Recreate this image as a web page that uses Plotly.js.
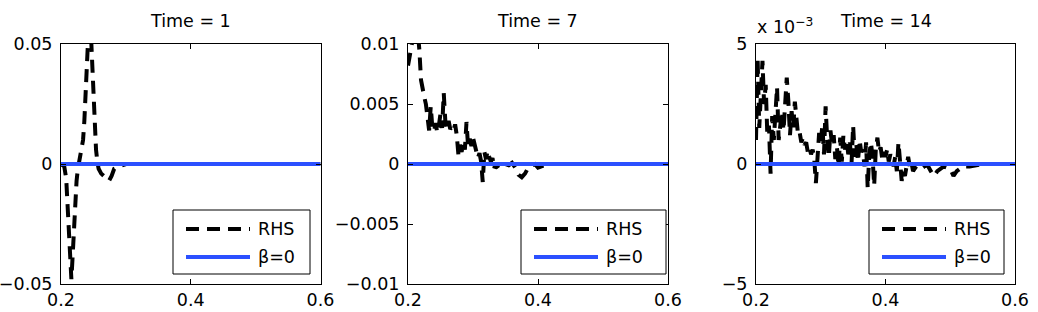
<!DOCTYPE html>
<html>
<head>
<meta charset="utf-8">
<script src="https://cdn.plot.ly/plotly-3.0.1.min.js"></script>
<style>html,body{margin:0;padding:0;background:#fff;}#chart{width:1038px;height:312px;}</style>
</head>
<body>
<div id="chart"></div>
<script>
// ---------- data ----------
const panelTitles = ["Time = 1", "Time = 7", "Time = 14"];
const seriesNames = ["RHS", "\u03b2=0"];

// Time = 1
const rhs1X = [0.2, 0.205, 0.208, 0.21, 0.212, 0.214, 0.216, 0.218, 0.22, 0.222, 0.224, 0.226, 0.228, 0.23, 0.232, 0.234, 0.236, 0.238, 0.24, 0.242, 0.244, 0.246, 0.248, 0.25, 0.252, 0.254, 0.256, 0.258, 0.262, 0.266, 0.27, 0.274, 0.278, 0.282, 0.29, 0.3, 0.4, 0.5, 0.6];
const rhs1Y = [0, -0.001, -0.006, -0.015, -0.027, -0.039, -0.048, -0.038, -0.025, -0.015, -0.007, -0.002, 0.001, 0.003, 0.006, 0.010, 0.018, 0.030, 0.042, 0.055, 0.065, 0.055, 0.040, 0.025, 0.014, 0.006, 0.001, -0.002, -0.004, -0.005, -0.006, -0.007, -0.005, -0.002, -0.001, 0, 0, 0, 0];

// Time = 7
const rhs7X = [0.2, 0.2025, 0.205, 0.2075, 0.21, 0.2125, 0.215, 0.2175, 0.22, 0.2225, 0.225, 0.2275, 0.23, 0.2325, 0.235, 0.2375, 0.24, 0.2425, 0.245, 0.2475, 0.25, 0.2525, 0.255, 0.2575, 0.26, 0.2625, 0.265, 0.2675, 0.27, 0.2725, 0.275, 0.2775, 0.28, 0.2825, 0.285, 0.2875, 0.29, 0.2925, 0.295, 0.2975, 0.3, 0.3025, 0.305, 0.3075, 0.31, 0.3125, 0.315, 0.3175, 0.32, 0.3225, 0.325, 0.3275, 0.33, 0.3325, 0.335, 0.3375, 0.34, 0.345, 0.35, 0.355, 0.36, 0.365, 0.37, 0.375, 0.38, 0.385, 0.39, 0.395, 0.4, 0.405, 0.41, 0.42, 0.5, 0.6];
const rhs7Y = [0.0082, 0.0090, 0.0098, 0.0106, 0.0115, 0.0120, 0.0110, 0.0095, 0.0070, 0.0060, 0.0056, 0.0050, 0.0038, 0.0028, 0.0048, 0.0030, 0.0027, 0.0034, 0.0026, 0.0032, 0.0042, 0.0030, 0.0059, 0.0035, 0.0029, 0.0036, 0.0029, 0.0031, 0.0028, 0.0033, 0.0024, 0.0008, 0.0016, 0.0010, 0.0018, 0.0012, 0.0035, 0.0014, 0.0021, 0.0015, 0.0022, 0.0016, 0.0009, 0.0005, 0.0009, 0.0002, -0.0015, 0.0010, 0.0004, 0.0011, 0.0006, 0.0002, 0.0005, -0.0004, 0.0001, -0.0002, -0.0001, -0.0003, 0.0000, -0.0001, 0.0001, -0.0003, -0.0009, -0.0011, -0.0008, -0.0003, -0.0001, 0.0000, -0.0003, -0.0002, -0.0001, 0, 0, 0];

// Time = 14 (values in units of 1e-3)
const rhs14X = [0.2, 0.2025, 0.205, 0.2075, 0.21, 0.2125, 0.215, 0.2175, 0.22, 0.2225, 0.225, 0.2275, 0.23, 0.2325, 0.235, 0.2375, 0.24, 0.2425, 0.245, 0.2475, 0.25, 0.2525, 0.255, 0.2575, 0.26, 0.2625, 0.265, 0.2675, 0.27, 0.2725, 0.275, 0.2775, 0.28, 0.2825, 0.285, 0.2875, 0.29, 0.2925, 0.295, 0.2975, 0.3, 0.3025, 0.305, 0.3075, 0.31, 0.3125, 0.315, 0.3175, 0.32, 0.3225, 0.325, 0.3275, 0.33, 0.3325, 0.335, 0.3375, 0.34, 0.3425, 0.345, 0.3475, 0.35, 0.3525, 0.355, 0.3575, 0.36, 0.3625, 0.365, 0.3675, 0.37, 0.3725, 0.375, 0.3775, 0.38, 0.3825, 0.385, 0.3875, 0.39, 0.3925, 0.395, 0.3975, 0.4, 0.4025, 0.405, 0.4075, 0.41, 0.4125, 0.415, 0.4175, 0.42, 0.4225, 0.425, 0.4275, 0.43, 0.4325, 0.435, 0.4375, 0.44, 0.4425, 0.445, 0.4475, 0.45, 0.455, 0.46, 0.465, 0.47, 0.475, 0.48, 0.49, 0.5, 0.505, 0.51, 0.52, 0.53, 0.55, 0.6];
const rhs14Y_e3 = [1.0, 4.4, 1.5, 3.0, 4.3, 2.5, 3.3, 1.2, 1.6, -0.4, 2.0, 1.0, 2.4, 3.2, 1.0, 1.8, 2.2, 1.4, 2.5, 3.6, 2.6, 1.2, 2.2, 1.5, 2.6, 1.8, 1.2, 1.3, 0.9, 1.1, 0.8, 0.9, 0.5, 0.7, 0.4, 0.6, 0.2, -0.8, 0.3, 1.3, 0.9, 1.6, 0.4, 2.4, 1.0, 0.3, 1.4, 0.8, 1.2, 0.2, 0.7, -0.1, 1.1, 0.1, 1.2, 0.6, 1.0, 0.4, 0.9, 0.0, 1.6, 0.3, 0.8, 0.1, 1.0, 0.5, 0.6, -0.1, 0.9, -1.0, 0.4, 0.9, 0.3, -0.9, 0.6, 1.1, 0.5, 0.7, 0.2, 0.5, 0.3, 0.6, 0.1, 0.4, 0.2, -0.1, 0.3, -0.3, 0.9, 0.1, -0.7, -0.3, -0.5, -0.1, 0.3, -0.1, 0.1, -0.3, -0.2, -0.1, -0.1, -0.2, -0.1, -0.05, -0.3, -0.5, -0.3, -0.1, -0.2, -0.5, -0.3, -0.1, -0.1, 0, 0];

// beta = 0 reference line
const betaX = [0.2, 0.6];
const betaY = [0, 0];

// axis ticks
const xTickVals = [0.2, 0.4, 0.6];
const xTickText = ["0.2", "0.4", "0.6"];
const y1TickVals = [-0.05, 0, 0.05];
const y1TickText = ["\u22120.05", "0", "0.05"];
const y2TickVals = [-0.01, -0.005, 0, 0.005, 0.01];
const y2TickText = ["\u22120.01", "\u22120.005", "0", "0.005", "0.01"];
const y3TickVals = [-5, 0, 5];
const y3TickText = ["\u22125", "0", "5"];

// ---------- styling / layout ----------
const W = 1038, H = 312;
const FONT = {family: "DejaVu Sans, sans-serif", size: 17.5, color: "#000"};
const BLACK = "#000000", BLUE = "#2b50ff";
const DASH = "13px,8px";
const px = p => p / W;
const py = p => 1 - p / H;

const panels = [
  {x0: 61, x1: 320.5, legX: 173, legW: 137},
  {x0: 408, x1: 668, legX: 521, legW: 145},
  {x0: 756, x1: 1015, legX: 869, legW: 135}
];
const plotTop = 44, plotBot = 284;

const rhsX = [rhs1X, rhs7X, rhs14X];
const rhsY = [rhs1Y, rhs7Y, rhs14Y_e3];
const yRanges = [[-0.05, 0.05], [-0.01, 0.01], [-5, 5]];
const yTicks = [[y1TickVals, y1TickText], [y2TickVals, y2TickText], [y3TickVals, y3TickText]];

const traces = [];
const layout = {
  width: W, height: H, autosize: false,
  margin: {l: 0, r: 0, t: 0, b: 0, pad: 0},
  paper_bgcolor: "#fff", plot_bgcolor: "#fff",
  showlegend: false,
  font: FONT,
  shapes: [], annotations: []
};

const axisCommon = {
  showline: true, mirror: "ticks", linecolor: BLACK, linewidth: 1,
  ticks: "inside", ticklen: 5, tickwidth: 1, tickcolor: BLACK,
  showgrid: false, zeroline: false, fixedrange: true,
  tickfont: FONT, tickmode: "array"
};

panels.forEach((p, i) => {
  const n = i === 0 ? "" : String(i + 1);
  const xa = "x" + n, ya = "y" + n;
  traces.push({
    x: rhsX[i], y: rhsY[i], xaxis: xa, yaxis: ya, type: "scatter", mode: "lines",
    name: seriesNames[0], line: {color: BLACK, width: 4, dash: DASH}, hoverinfo: "skip"
  });
  traces.push({
    x: betaX, y: betaY, xaxis: xa, yaxis: ya, type: "scatter", mode: "lines",
    name: seriesNames[1], line: {color: BLUE, width: 4}, hoverinfo: "skip"
  });
  layout["xaxis" + n] = Object.assign({}, axisCommon, {
    domain: [px(p.x0), px(p.x1)], range: [0.2, 0.6], anchor: ya,
    tickvals: xTickVals, ticktext: xTickText, ticklabelstandoff: 0
  });
  layout["yaxis" + n] = Object.assign({}, axisCommon, {
    domain: [py(plotBot), py(plotTop)], range: yRanges[i], anchor: xa,
    tickvals: yTicks[i][0], ticktext: yTicks[i][1], ticklabelstandoff: 4
  });
  // title
  layout.annotations.push({
    text: panelTitles[i], xref: "paper", yref: "paper",
    x: px((p.x0 + p.x1) / 2), y: py(21.5), xanchor: "center", yanchor: "middle",
    showarrow: false, font: FONT
  });
  // legend box
  const lt = 210, lb = 274;
  layout.shapes.push({
    type: "rect", xref: "paper", yref: "paper",
    x0: px(p.legX), x1: px(p.legX + p.legW), y0: py(lb), y1: py(lt),
    line: {color: BLACK, width: 1}, fillcolor: "#fff", layer: "above"
  });
  layout.shapes.push({
    type: "line", xref: "paper", yref: "paper",
    x0: px(p.legX + 13), x1: px(p.legX + 77), y0: py(229), y1: py(229),
    line: {color: BLACK, width: 4, dash: DASH}, layer: "above"
  });
  layout.shapes.push({
    type: "line", xref: "paper", yref: "paper",
    x0: px(p.legX + 13), x1: px(p.legX + 77), y0: py(257), y1: py(257),
    line: {color: BLUE, width: 4}, layer: "above"
  });
  layout.annotations.push({
    text: seriesNames[0], xref: "paper", yref: "paper",
    x: px(p.legX + 83), y: py(229), xanchor: "left", yanchor: "middle",
    showarrow: false, font: FONT
  });
  layout.annotations.push({
    text: seriesNames[1], xref: "paper", yref: "paper",
    x: px(p.legX + 83), y: py(257), xanchor: "left", yanchor: "middle",
    showarrow: false, font: FONT
  });
});

// exponent multiplier for third panel
layout.annotations.push({
  text: "x 10<sup>\u22123</sup>", xref: "paper", yref: "paper",
  x: px(755), y: py(39), xanchor: "left", yanchor: "bottom",
  showarrow: false, font: FONT
});

Plotly.newPlot("chart", traces, layout, {staticPlot: true, displayModeBar: false});
</script>
</body>
</html>
